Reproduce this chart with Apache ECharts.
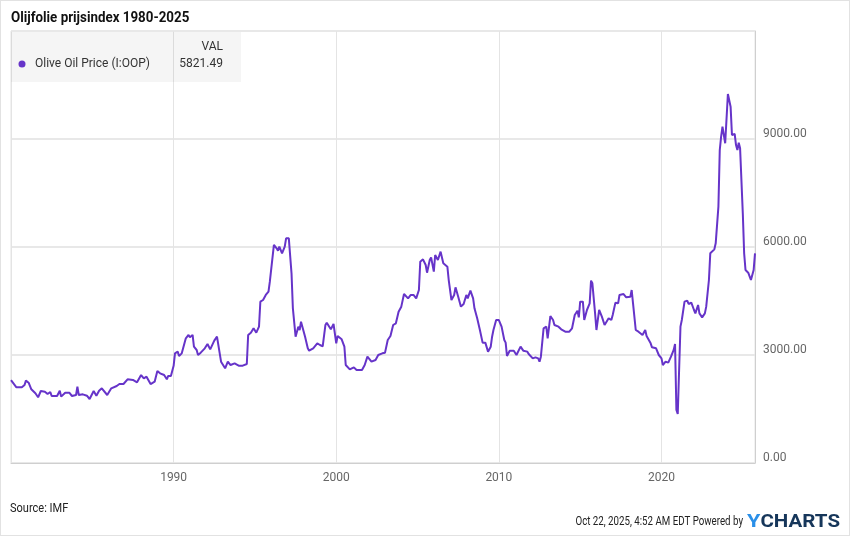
<!DOCTYPE html>
<html><head><meta charset="utf-8">
<script src="https://cdn.jsdelivr.net/npm/echarts@6/dist/echarts.min.js"></script>
<style>html,body{margin:0;padding:0;background:#fff}#c{width:850px;height:536px;box-sizing:border-box;border:1px solid #e2e2e2}</style>
</head><body><div id="c"></div><script>
const chartTitle = 'Olijfolie prijsindex 1980-2025';
const seriesName = 'Olive Oil Price (I:OOP)';
const lastValueLabel = '5821.49';
const dates = ['1980-01','1980-05','1980-09','1980-11','1980-12','1981-02','1981-04','1981-07','1981-09','1981-11',
'1982-02','1982-04','1982-06','1982-07','1982-11','1983-01','1983-02','1983-05','1983-08','1983-10',
'1984-01','1984-02','1984-03','1984-06','1984-09','1984-11','1985-02','1985-04','1985-06','1985-08','1985-12',
'1986-03','1986-07','1986-09','1986-12','1987-03','1987-07','1987-10','1988-01','1988-03','1988-05','1988-08','1988-11',
'1989-01','1989-03','1989-06','1989-08','1989-09','1989-11','1990-01','1990-02','1990-04','1990-05','1990-07','1990-09','1990-10','1990-12',
'1991-01','1991-03','1991-04','1991-06','1991-07','1991-09','1991-12','1992-02','1992-04','1992-07','1992-09','1992-12',
'1993-01','1993-03','1993-05','1993-07','1993-10','1994-01','1994-04','1994-07','1994-08','1994-10','1994-12',
'1995-02','1995-04','1995-05','1995-07','1995-09','1995-11','1995-12','1996-01','1996-03','1996-05','1996-06','1996-07','1996-09','1996-11','1996-12',
'1997-02','1997-04','1997-05','1997-06','1997-07','1997-09','1997-10','1997-11','1997-12','1998-02','1998-04','1998-05','1998-08','1998-09','1998-11',
'1999-01','1999-03','1999-05','1999-06','1999-09','1999-11','2000-01','2000-02','2000-05','2000-07','2000-08','2000-11',
'2001-02','2001-04','2001-05','2001-08','2001-10','2001-12','2002-03','2002-06','2002-08','2002-11','2003-01','2003-03','2003-05','2003-07','2003-09','2003-11',
'2004-01','2004-03','2004-06','2004-08','2004-10','2004-12','2005-02','2005-03','2005-05','2005-07','2005-08','2005-10','2005-11',
'2006-01','2006-02','2006-03','2006-04','2006-06','2006-08','2006-09','2006-11','2006-12','2007-02','2007-04','2007-05','2007-07','2007-09','2007-11',
'2008-01','2008-02','2008-04','2008-06','2008-07','2008-09','2008-11','2009-01','2009-03','2009-05','2009-07','2009-08','2009-09','2009-11',
'2010-01','2010-03','2010-05','2010-06','2010-07','2010-09','2010-12','2011-02','2011-05','2011-07','2011-10','2011-11',
'2012-02','2012-04','2012-06','2012-07','2012-08','2012-10','2012-12','2013-01','2013-03','2013-05','2013-06','2013-09','2013-11',
'2014-02','2014-05','2014-07','2014-09','2014-11','2014-12','2015-01','2015-03','2015-04','2015-06','2015-08','2015-09','2015-10','2015-12',
'2016-01','2016-03','2016-05','2016-07','2016-10','2016-12','2017-01','2017-03','2017-05','2017-06','2017-09','2017-11',
'2018-02','2018-03','2018-04','2018-06','2018-08','2018-09','2018-11','2019-01','2019-02','2019-05','2019-06','2019-09','2019-11',
'2020-01','2020-02','2020-04','2020-06','2020-08','2020-10','2020-11','2020-12','2021-01','2021-03','2021-04','2021-06','2021-08','2021-09','2021-11',
'2022-01','2022-02','2022-04','2022-05','2022-07','2022-09','2022-10','2022-12','2023-01','2023-04','2023-05','2023-07','2023-08','2023-09','2023-10','2023-12',
'2024-02','2024-04','2024-05','2024-07','2024-08','2024-09','2024-10','2024-11','2025-01','2025-02','2025-03','2025-05','2025-07','2025-09','2025-10'];
const values = [2300,2103,2103,2167,2287,2231,2047,1936,1825,2000,
1981,1917,1972,1861,1861,2009,1843,1953,1953,1861,
1889,2120,1889,1907,1870,1778,2000,1870,2009,2074,1889,
2074,2139,2194,2194,2324,2306,2241,2444,2352,2398,2194,2259,
2556,2491,2444,2324,2417,2417,2700,3046,3093,2972,3046,3324,3463,3556,
3491,3556,3231,3139,3000,3065,3185,3306,3157,3398,3509,2815,
2787,2630,2815,2722,2769,2704,2704,2750,3556,3620,3741,
3620,3787,4481,4528,4667,4759,5037,5083,6056,5963,5898,6009,5824,6009,6241,
6241,5269,4296,4250,3509,3787,3694,3926,3880,3509,3185,3120,3185,3157,3324,
3278,3241,3833,3898,3713,3861,3324,3528,3435,3231,2722,2602,
2657,2583,2630,2583,2722,2954,2815,2861,3000,3046,3065,3417,3528,3833,3880,4204,
4343,4694,4574,4667,4667,4574,4806,5593,5657,5500,5287,5639,5713,
5315,5778,5824,5639,5870,5546,5593,5454,5083,4528,4667,4880,4620,4343,4417,
4667,4574,4787,4574,4296,4019,3694,3343,3343,3093,3231,3509,3694,3972,
3972,3787,3417,3343,2972,3120,3120,3000,3231,3120,3093,3028,
2907,2935,2907,2815,2954,3741,3787,3463,4083,3972,3833,3787,3713,
3648,3648,3741,4111,4231,4046,4481,4481,3972,4250,4435,5065,4991,4157,
3694,4250,4065,3833,4019,3972,4111,4454,4435,4667,4694,4602,
4620,4806,4435,3694,3648,3700,3556,3694,3528,3324,3213,3185,3000,
2907,2722,2815,2787,2954,3139,3306,1472,1361,3787,3972,4481,4509,4417,4454,
4250,4157,4389,4157,4046,4157,4343,5083,5824,5935,6102,7120,8694,9065,9343,8880,
10250,9898,9111,9139,8833,8694,8898,8741,6935,5824,5361,5287,5083,5361,5821.49];
const yMin = 0, yMax = 12000, yStep = 3000;
const xStart = 1980, xStep = 10;

function toYear(d){ const p = d.split('-'); return +p[0] + (+p[1]-1)/12; }
const points = dates.map((d,i)=>[toYear(d), values[i]]);
const xEnd = points[points.length-1][0];

const chart = echarts.init(document.getElementById('c'), null, {renderer:'canvas'});
const F = 'Roboto, "Noto Sans", sans-serif';
chart.setOption({
  animation:false,
  backgroundColor:'#fff',
  grid:{left:10, right:94, top:30, bottom:72, show:true, borderColor:'#e4e4e4', borderWidth:1},
  xAxis:{type:'value', min:xStart, max:xEnd, interval:xStep,
    axisLine:{show:true, lineStyle:{color:'#cfcfcf'}}, axisTick:{show:false},
    splitLine:{show:true, lineStyle:{color:'#e4e4e4'}},
    axisLabel:{showMinLabel:false, showMaxLabel:false, color:'#666', fontFamily:F, fontSize:12, margin:9, formatter:v=>String(Math.round(v))}},
  yAxis:{type:'value', position:'right', min:yMin, max:yMax, interval:yStep,
    axisLine:{show:true, lineStyle:{color:'#cfcfcf'}}, axisTick:{show:false},
    splitLine:{show:true, lineStyle:{color:'#e8e8e8', width:2}},
    axisLabel:{showMaxLabel:false, color:'#666', fontFamily:F, fontSize:12, margin:8, verticalAlign:'bottom', lineHeight:10, formatter:v=>v.toFixed(2)}},
  series:[{type:'line', name:seriesName, data:points, showSymbol:false, symbol:'none',
    lineStyle:{color:'#6634c9', width:2}, itemStyle:{color:'#6634c9'}, z:5}],
  graphic:[
    {type:'text', x:10, y:17, style:{text:chartTitle, font:'bold 15px '+F, fill:'#111', verticalAlign:'middle'}, scaleX:0.89},
    {type:'rect', shape:{x:10, y:31, width:230, height:50}, style:{fill:'rgba(0,0,0,0.04)'}, z:1},
    {type:'circle', shape:{cx:21, cy:63, r:3.5}, style:{fill:'#6634c9'}, z:10},
    {type:'text', x:34, y:63, style:{text:seriesName, font:'12px '+F, fill:'#333', verticalAlign:'middle'}, z:10},
    {type:'text', x:222, y:46, style:{text:'VAL', font:'12px '+F, fill:'#333', align:'right', verticalAlign:'middle'}, z:10},
    {type:'text', x:222, y:63, style:{text:lastValueLabel, font:'12px '+F, fill:'#333', align:'right', verticalAlign:'middle'}, z:10},
    {type:'text', x:9, y:508, style:{text:'Source: IMF', font:'12px '+F, fill:'#222', verticalAlign:'middle'}, scaleX:0.92},
    {type:'text', x:742, y:521, style:{text:'Oct 22, 2025, 4:52 AM EDT Powered by', font:'12px '+F, fill:'#222', align:'right', verticalAlign:'middle'}, scaleX:0.81},
    {type:'text', x:746, y:521, style:{rich:{y:{font:'bold 19px '+F, fill:'#2a8fe8'}, c:{font:'bold 18px '+F, fill:'#16365a'}}, text:'{y|Y}{c|CHARTS}', verticalAlign:'middle'}, scaleX:1.14}
  ]
});
</script></body></html>
